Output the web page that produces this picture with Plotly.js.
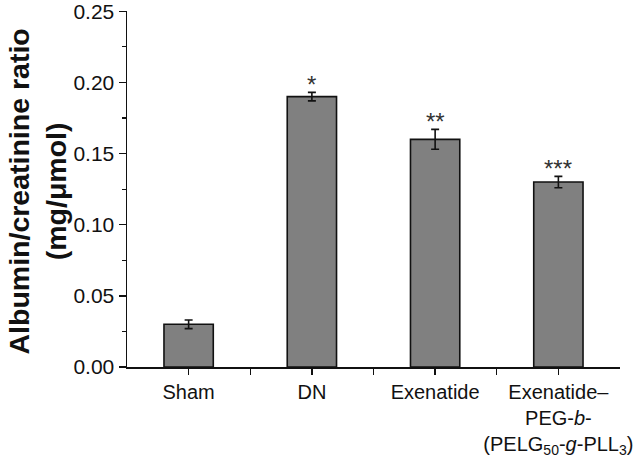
<!DOCTYPE html>
<html><head><meta charset="utf-8">
<script src="https://cdn.plot.ly/plotly-3.0.1.min.js"></script>
<style>html,body{margin:0;padding:0;background:#fff}#chart{width:638px;height:460px}</style>
</head><body><div id="chart"></div>
<script>
const categories = ["Sham", "DN", "Exenatide", "Exenatide–<br>PEG-<i>b</i>-<br>(PELG<sub>50</sub>-<i>g</i>-PLL<sub>3</sub>)"];
const values = [0.030, 0.190, 0.160, 0.130];
const errors = [0.003, 0.003, 0.007, 0.004];
const stars = ["", "*", "**", "***"];
const yTicks = [0, 0.05, 0.10, 0.15, 0.20, 0.25];
const yTickLabels = ["0.00", "0.05", "0.10", "0.15", "0.20", "0.25"];
const yTitle = "<b>Albumin/creatinine ratio<br>(mg/μmol)</b>";

const xs = categories.map((c, i) => i);
const font = "Liberation Sans, Arial, sans-serif";

const trace = {
  type: "bar", x: xs, y: values, width: 0.4,
  marker: {color: "#808080", line: {color: "#111", width: 1.6}},
  error_y: {type: "data", array: errors, visible: true, color: "#111", thickness: 1.6, width: 4},
  hoverinfo: "none"
};

const annotations = stars.map((s, i) => ({
  x: xs[i], y: values[i] + errors[i], xref: "x", yref: "y",
  text: s, showarrow: false, yanchor: "bottom", yshift: -8,
  font: {family: font, size: 24, color: "#333"}
})).filter(a => a.text);

annotations.push({
  xref: "paper", yref: "paper", x: -127 / 493, y: 0.5, xanchor: "left", yanchor: "middle",
  xshift: 0, yshift: -3,
  text: yTitle, textangle: -90, showarrow: false,
  font: {family: font, size: 28.5, color: "#111"}
});

const layout = {
  width: 638, height: 460,
  margin: {l: 127, r: 18, t: 11, b: 93},
  paper_bgcolor: "#fff", plot_bgcolor: "#fff",
  showlegend: false,
  font: {family: font, color: "#111"},
  xaxis: {
    range: [-0.5, 3.5], tickvals: xs, ticktext: categories, tickangle: 0,
    ticks: "outside", ticklen: 6, tickwidth: 1.3, tickcolor: "#111",
    showline: true, linecolor: "#111", linewidth: 1.5,
    showgrid: false, zeroline: false,
    tickfont: {family: font, size: 20, color: "#111"},
    minor: {tickvals: [0.5, 1.5, 2.5], ticks: "outside", ticklen: 6, tickwidth: 1.3, tickcolor: "#111", showgrid: false}
  },
  yaxis: {
    range: [0, 0.2502], tickvals: yTicks, ticktext: yTickLabels, ticklabeloverflow: "allow",
    ticks: "outside", ticklen: 7, tickwidth: 1.3, tickcolor: "#111",
    showline: true, linecolor: "#111", linewidth: 1.5,
    showgrid: false, zeroline: false,
    tickfont: {family: font, size: 21, color: "#111"},
    minor: {dtick: 0.025, ticks: "outside", ticklen: 4, tickwidth: 1.2, tickcolor: "#111", showgrid: false}
  },
  annotations: annotations
};

Plotly.newPlot("chart", [trace], layout, {displayModeBar: false, staticPlot: true});
</script></body></html>
